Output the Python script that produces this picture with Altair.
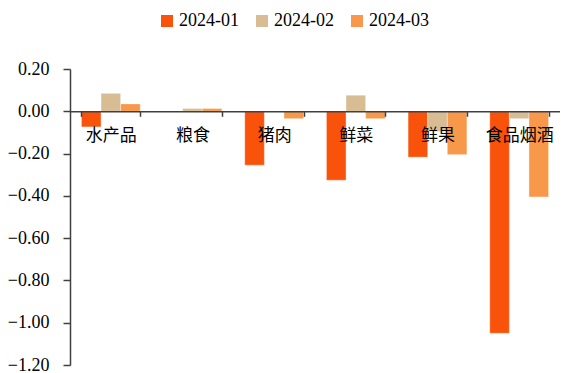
import altair as alt
import pandas as pd

cats = ["水产品", "粮食", "猪肉", "鲜菜", "鲜果", "食品烟酒"]
series = ["2024-01", "2024-02", "2024-03"]
s01 = [-0.074, 0.0, -0.255, -0.326, -0.217, -1.05]
s02 = [0.085, 0.013, 0.0, 0.076, -0.095, -0.035]
s03 = [0.035, 0.013, -0.035, -0.035, -0.205, -0.405]
colors = ["#F9530B", "#D8BC94", "#F8984A"]

rows = []
for name, vals in zip(series, [s01, s02, s03]):
    for c, v in zip(cats, vals):
        rows.append({"cat": c, "series": name, "value": v})
df = pd.DataFrame(rows)

FONT = "Liberation Serif, Times New Roman, Noto Sans CJK SC"
W, H = 490, 296
zero_off = H * 0.2 / 1.4 - H

chart = alt.Chart(df).mark_bar(stroke="white", strokeWidth=0.6, strokeOpacity=0.6).encode(
    x=alt.X("cat:N", sort=cats, title=None,
            scale=alt.Scale(paddingInner=0.28, paddingOuter=0.14),
            axis=alt.Axis(orient="bottom", offset=zero_off, labelAngle=0,
                          labelFontSize=17, labelFont=FONT, labelColor="black",
                          labelPadding=11, tickBand="extent", tickSize=5,
                          tickColor="#404040", tickWidth=1.5,
                          domainColor="#404040", domainWidth=1.5, zindex=1)),
    xOffset=alt.XOffset("series:N", sort=series, scale=alt.Scale(paddingInner=0, paddingOuter=0)),
    y=alt.Y("value:Q", title=None,
            scale=alt.Scale(domain=[-1.2, 0.2], nice=False, zero=False),
            axis=alt.Axis(values=[0.2, 0.0, -0.2, -0.4, -0.6, -0.8, -1.0, -1.2],
                          format=".2f", grid=False, labelFontSize=18, labelFont=FONT,
                          labelColor="black", labelPadding=14, tickSize=7,
                          tickColor="#404040", tickWidth=1.5,
                          domainColor="#404040", domainWidth=1.5)),
    color=alt.Color("series:N", sort=series, title=None,
                    scale=alt.Scale(domain=series, range=colors),
                    legend=alt.Legend(orient="none", legendX=88, legendY=-57,
                                      direction="horizontal", symbolType="square",
                                      symbolSize=144, symbolStrokeWidth=0,
                                      labelFontSize=18, labelFont=FONT, labelColor="black",
                                      labelOffset=3, columnPadding=14)),
).properties(
    width=W, height=H,
    autosize=alt.AutoSizeParams(type="none"),
    padding={"left": 62, "top": 61, "right": 0, "bottom": 8},
).configure_view(stroke=None)

chart.save("out.html", embed_options={"renderer": "svg", "actions": False})
